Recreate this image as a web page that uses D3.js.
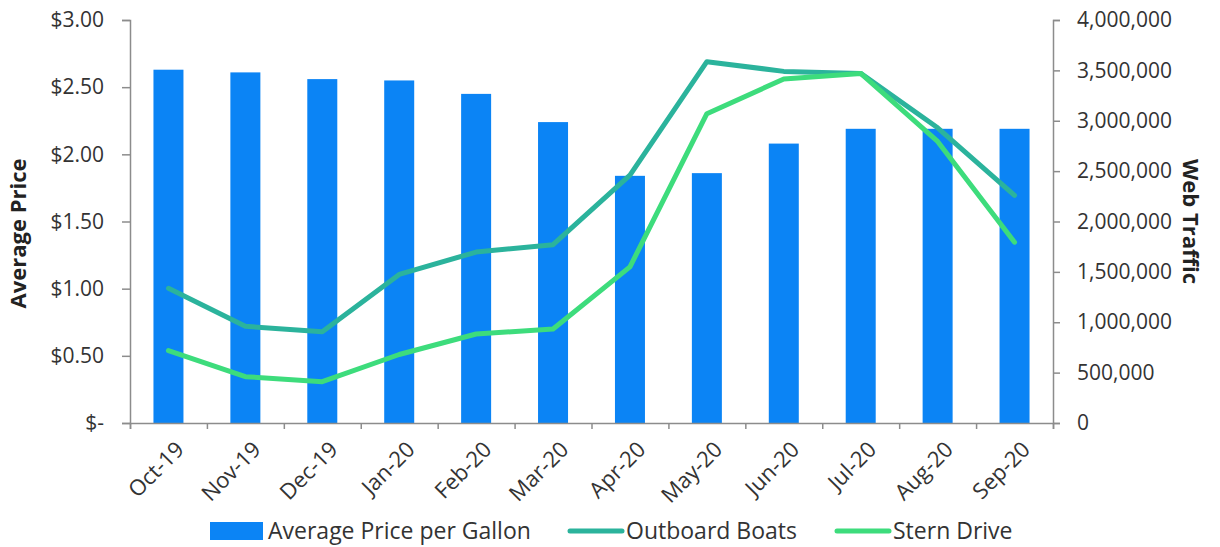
<!DOCTYPE html>
<html>
<head>
<meta charset="utf-8">
<script src="https://cdn.jsdelivr.net/npm/d3@7"></script>
<style>
  body { margin: 0; background: #fff; }
  svg { display: block; font-family: "Open Sans", sans-serif; }
</style>
</head>
<body>
<div id="chart"></div>
<script>
// data
var months = ["Oct-19", "Nov-19", "Dec-19", "Jan-20", "Feb-20", "Mar-20",
              "Apr-20", "May-20", "Jun-20", "Jul-20", "Aug-20", "Sep-20"];
var avgPrice = [2.63, 2.61, 2.56, 2.55, 2.45, 2.24, 1.84, 1.86, 2.08, 2.19, 2.19, 2.19];
var outboard = [1337000, 960000, 905000, 1475000, 1697000, 1770000,
                2460000, 3586000, 3490000, 3470000, 2930000, 2260000];
var sternDrive = [718000, 460000, 410000, 680000, 883000, 933000,
                  1550000, 3070000, 3415000, 3470000, 2795000, 1795000];
var priceTicks = [0, 0.5, 1, 1.5, 2, 2.5, 3];
var trafficTicks = [0, 500000, 1000000, 1500000, 2000000, 2500000, 3000000, 3500000, 4000000];

var W = 1220, H = 547;
var margin = {top: 20, right: 167, bottom: 124, left: 130};
var w = W - margin.left - margin.right;
var h = H - margin.top - margin.bottom;

var barColor = "#0b84f5", outboardColor = "#2bb39c", sternColor = "#3ddc7c";
var axisColor = "#8c8c8c", textColor = "#333";

var svg = d3.select("#chart").append("svg")
    .attr("width", W)
    .attr("height", H);

var g = svg.append("g")
    .attr("transform", "translate(" + margin.left + "," + margin.top + ")");

var xScale = d3.scaleBand()
    .domain(months)
    .range([0, w])
    .paddingInner(0.61)
    .paddingOuter(0.305);

var yLeft = d3.scaleLinear().domain([0, 3]).range([h, 0]);
var yRight = d3.scaleLinear().domain([0, 4000000]).range([h, 0]);

// bars
g.selectAll("rect.bar")
    .data(avgPrice)
    .enter()
    .append("rect")
    .attr("class", "bar")
    .attr("x", function(d, i) { return xScale(months[i]); })
    .attr("y", function(d) { return yLeft(d); })
    .attr("width", xScale.bandwidth())
    .attr("height", function(d) { return h - yLeft(d); })
    .attr("fill", barColor);

// lines
var line = d3.line()
    .x(function(d, i) { return xScale(months[i]) + xScale.bandwidth() / 2; })
    .y(function(d) { return yRight(d); });

g.append("path")
    .datum(outboard)
    .attr("d", line)
    .attr("fill", "none")
    .attr("stroke", outboardColor)
    .attr("stroke-width", 5)
    .attr("stroke-linejoin", "round")
    .attr("stroke-linecap", "round");

g.append("path")
    .datum(sternDrive)
    .attr("d", line)
    .attr("fill", "none")
    .attr("stroke", sternColor)
    .attr("stroke-width", 5)
    .attr("stroke-linejoin", "round")
    .attr("stroke-linecap", "round");

// axes
var leftAxis = d3.axisLeft(yLeft)
    .tickValues(priceTicks)
    .tickSize(8)
    .tickPadding(18)
    .tickFormat(function(d) { return d === 0 ? "$-" : "$" + d3.format(".2f")(d); });

var rightAxis = d3.axisRight(yRight)
    .tickValues(trafficTicks)
    .tickSize(7)
    .tickPadding(17)
    .tickFormat(d3.format(","));

var bottomAxis = d3.axisBottom(d3.scalePoint().domain(d3.range(months.length + 1)).range([0, w]))
    .tickSize(6)
    .tickFormat("");

var gl = g.append("g").call(leftAxis);
var gr = g.append("g").attr("transform", "translate(" + w + ",0)").call(rightAxis);
var gb = g.append("g").attr("transform", "translate(0," + h + ")").call(bottomAxis);

[gl, gr, gb].forEach(function(a) {
    a.select(".domain").attr("stroke", axisColor).attr("stroke-width", 1.5);
    a.selectAll(".tick line").attr("stroke", axisColor).attr("stroke-width", 1.5);
    a.selectAll(".tick text")
        .attr("fill", textColor)
        .style("font-size", "21px")
        .style("font-family", "'Open Sans', sans-serif");
});

// month labels, rotated
g.append("g")
    .selectAll("text")
    .data(months)
    .enter()
    .append("text")
    .attr("transform", function(d) {
        var x = xScale(d) + xScale.bandwidth() / 2 + 6;
        return "translate(" + x + "," + (h + 17) + ") rotate(-45)";
    })
    .attr("text-anchor", "end")
    .attr("dy", "0.7em")
    .attr("fill", textColor)
    .style("font-size", "22px")
    .text(function(d) { return d; });

// axis titles
svg.append("text")
    .attr("transform", "translate(26," + (margin.top + h / 2 + 12) + ") rotate(-90)")
    .attr("text-anchor", "middle")
    .attr("font-weight", "bold")
    .attr("fill", "#222")
    .style("font-size", "22px")
    .text("Average Price");

svg.append("text")
    .attr("transform", "translate(1183," + (margin.top + h / 2) + ") rotate(90)")
    .attr("text-anchor", "middle")
    .attr("font-weight", "bold")
    .attr("fill", "#222")
    .style("font-size", "22px")
    .text("Web Traffic");

// legend
var legendItems = [
    {label: "Average Price per Gallon", color: barColor, type: "rect", x: 210},
    {label: "Outboard Boats", color: outboardColor, type: "line", x: 568},
    {label: "Stern Drive", color: sternColor, type: "line", x: 835}
];
var legend = svg.append("g").attr("transform", "translate(0,531)");
legendItems.forEach(function(item) {
    if (item.type === "rect") {
        legend.append("rect")
            .attr("x", item.x).attr("y", -9)
            .attr("width", 53).attr("height", 18)
            .attr("fill", item.color);
    } else {
        legend.append("line")
            .attr("x1", item.x + 2).attr("x2", item.x + 54)
            .attr("y1", 0).attr("y2", 0)
            .attr("stroke", item.color)
            .attr("stroke-width", 5)
            .attr("stroke-linecap", "round");
    }
    legend.append("text")
        .attr("x", item.x + 58)
        .attr("y", 0)
        .attr("dy", "0.35em")
        .attr("fill", textColor)
        .style("font-size", "23px")
        .text(item.label);
});
</script>
</body>
</html>
